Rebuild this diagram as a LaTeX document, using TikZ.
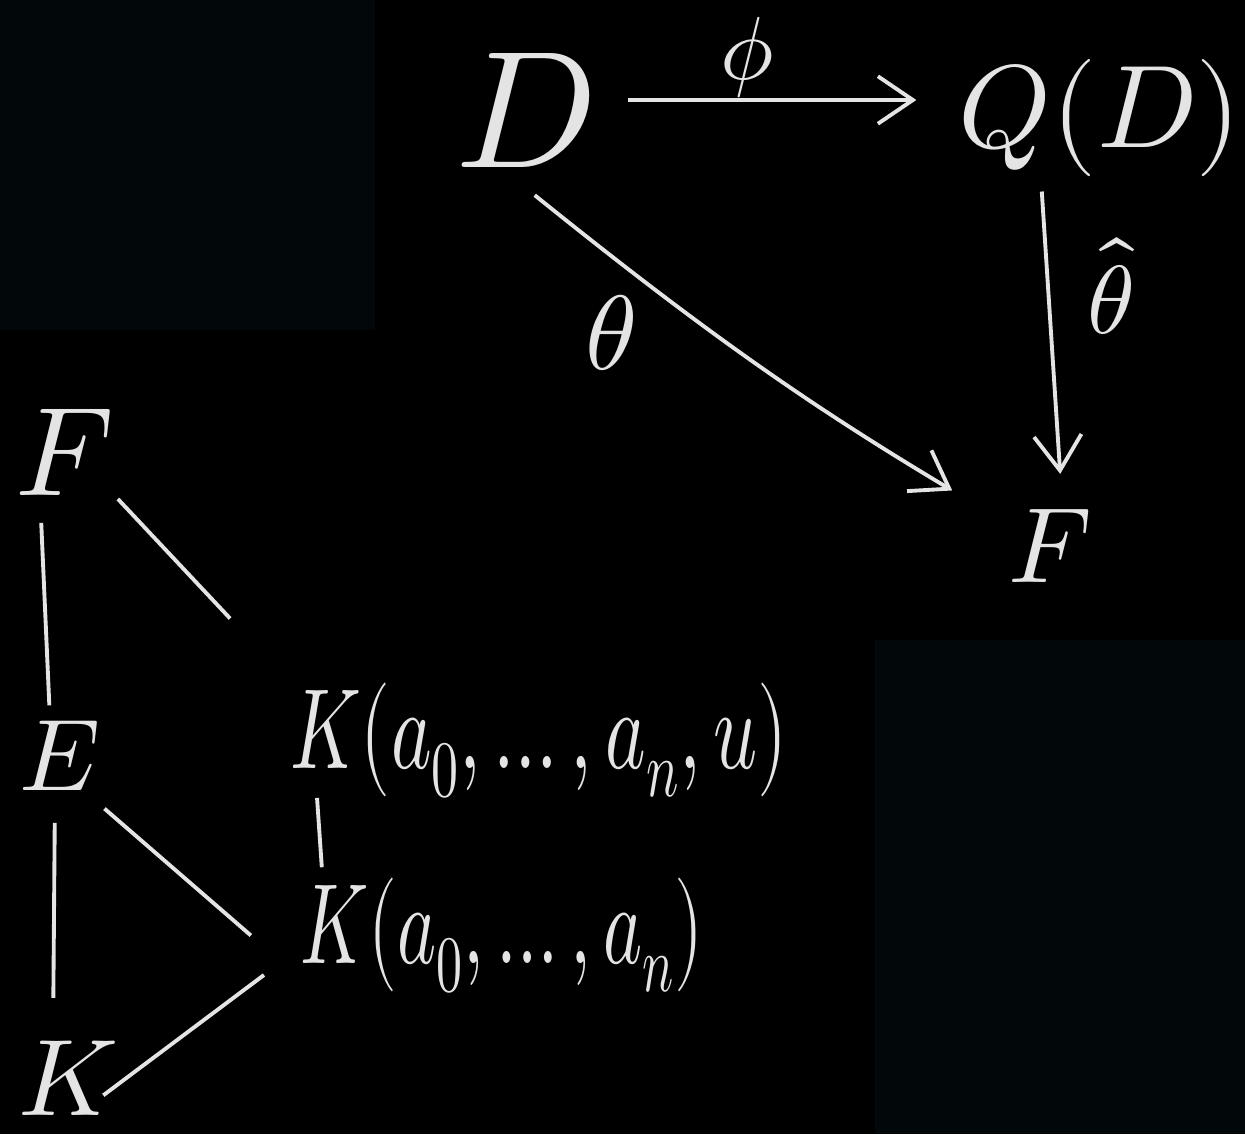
\documentclass[tikz,border=0pt]{standalone}
\usepackage{amsmath,amssymb}
\usepackage{unicode-math}
\usetikzlibrary{arrows.meta}

\definecolor{board}{RGB}{2,7,10}
\definecolor{chalk}{RGB}{228,228,228}

\begin{document}
\begin{tikzpicture}[
    x=0.02cm, y=-0.02cm,
    obj/.style={text=chalk, inner sep=0pt},
    lbl/.style={text=chalk, inner sep=0pt},
    map/.style={draw=chalk, line width=2.2pt, -{Straight Barb[length=0.7cm, width=0.95cm]}},
    link/.style={draw=chalk, line width=2.2pt},
  ]
    \fill[black] (0,0) rectangle (1245,1134);
    \useasboundingbox (0,0) rectangle (1245,1134);
    \fill[board] (0,0) rectangle (375,330);
    \fill[board] (875,640) rectangle (1245,1134);

    % the triangle D -> Q(D) -> F
    \node[obj, anchor=base, font=\fontsize{95}{95}\selectfont] (D) at (525,167) {$D$};
    \node[obj, anchor=base, font=\fontsize{67}{67}\selectfont] (QD) at (1100,147) {$Q(D)$};
    \node[obj, anchor=base, font=\fontsize{61}{61}\selectfont] (Fr) at (1050,582) {$F$};
    \node[lbl, font=\fontsize{60}{60}\selectfont] (theta) at (611,333) {$\theta$};

    \draw[map, shorten <=0.66cm, shorten >=0.84cm] ([yshift=0.2cm]D.east) -- ([yshift=0.2cm]D.east -| QD.west)
      node[lbl, pos=0.42, above, font=\fontsize{51}{51}\selectfont] (phi) {$\phi$};
    \draw[map, shorten <=0.3cm, shorten >=0.7cm] ([xshift=1.65cm]QD.south west) -- ([xshift=0.25cm]Fr.north)
      node[lbl, pos=0.33, right=0.75cm, font=\fontsize{55}{55}\selectfont] (thetahat) {$\hat{\theta}$};
    \draw[map, shorten <=0.25cm, shorten >=1.3cm] ([yshift=-0.4cm]D.south) to[bend right=4] ([yshift=-0.3cm]Fr.north west);

    % tower of fields
    \node[obj, anchor=base, font=\fontsize{72}{72}\selectfont] (Fl) at (65,495) {$F$};
    \node[obj, anchor=base, font=\fontsize{58}{58}\selectfont] (El) at (60,790) {$E$};
    \node[obj, anchor=base, font=\fontsize{62}{62}\selectfont] (Kl) at (68,1115) {$K$};
    \node[obj, anchor=base west, font=\fontsize{65}{65}\selectfont] (Ku) at (290,768) {\scalebox{0.675}[1]{$K(a_0,\dots,a_n,u)$}};
    \node[obj, anchor=base west, font=\fontsize{65}{65}\selectfont] (Kn) at (300,963) {\scalebox{0.65}[1]{$K(a_0,\dots,a_n)$}};

    \draw[link, shorten <=0.55cm, shorten >=0.3cm] ([xshift=-0.5cm]Fl.south) -- ([xshift=-0.2cm]El.north);
    \draw[link, shorten <=0.65cm, shorten >=0.85cm] ([xshift=-0.1cm]El.south) -- ([xshift=-0.3cm]Kl.north);
    \draw[link, shorten <=0.1cm, shorten >=1.75cm] (Fl.south east) -- (Ku.north west);
    \draw[link, shorten <=0.1cm, shorten >=1.3cm] ([yshift=-0.3cm]El.south east) -- ([yshift=-0.3cm]Kn.base west);
    \draw[link, shorten <=0.6cm, shorten >=0.2cm] ([xshift=0.5cm]Ku.base west) -- ([xshift=0.45cm]Kn.north west);
    \draw[link, shorten <=0.9cm] ([yshift=0.3cm]Kn.base west) -- ([xshift=-0.3cm, yshift=-0.35cm]Kl.east);
\end{tikzpicture}
\end{document}
